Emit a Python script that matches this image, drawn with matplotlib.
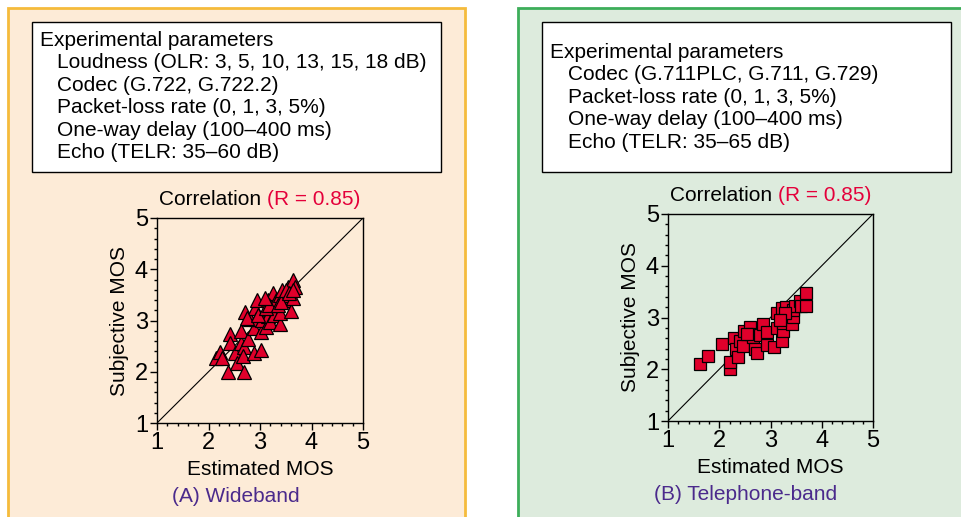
import numpy as np
import matplotlib.pyplot as plt
from matplotlib.patches import Rectangle
from matplotlib.ticker import MultipleLocator

plt.rcParams['font.family'] = ['Liberation Sans', 'DejaVu Sans']

# wideband (triangles)
wb_est = [2.15, 2.23, 2.27, 2.38, 2.41, 2.41, 2.51, 2.55, 2.64, 2.64, 2.68, 2.68, 2.67,
          2.70, 2.77, 2.88, 2.88, 2.81, 2.90, 2.94, 2.93, 3.01, 3.01, 3.03, 3.11, 3.16,
          3.16, 3.20, 3.25, 3.25, 3.28, 3.32, 3.38, 3.38, 3.38, 3.43, 3.46, 3.51, 3.54,
          3.59, 3.61, 3.64, 3.65, 3.67, 2.74, 2.96, 3.12, 3.18, 3.35, 3.41, 3.09, 3.51,
          3.57, 3.64]
wb_subj = [2.26, 2.39, 2.26, 2.00, 2.74, 2.56, 2.37, 2.17, 2.56, 2.80, 2.49, 1.99, 2.31,
           3.17, 2.63, 2.36, 2.85, 3.02, 3.24, 3.40, 3.02, 2.43, 2.78, 3.01, 2.88, 3.09,
           3.40, 2.98, 3.27, 3.53, 3.11, 3.40, 2.94, 3.14, 3.50, 3.59, 3.40, 3.46, 3.66,
           3.50, 3.19, 3.43, 3.79, 3.66, 3.04, 3.11, 3.24, 3.30, 3.30, 3.37, 3.43, 3.59,
           3.53, 3.59]

# telephone band (squares)
tb_est = [1.62, 1.79, 2.05, 2.20, 2.21, 2.28, 2.33, 2.36, 2.41, 2.46, 2.48, 2.60, 2.61,
          2.65, 2.70, 2.74, 2.80, 2.85, 2.93, 2.94, 3.06, 3.12, 3.12, 3.22, 3.24, 3.25,
          3.22, 3.31, 3.41, 3.44, 3.43, 3.47, 3.57, 3.60, 3.69, 3.70, 2.54, 3.28, 3.19]
tb_subj = [2.10, 2.25, 2.49, 2.00, 2.14, 2.60, 2.40, 2.24, 2.54, 2.45, 2.74, 2.82, 2.68,
           2.63, 2.40, 2.31, 2.66, 2.87, 2.72, 2.47, 2.43, 2.79, 3.08, 2.55, 2.73, 2.90,
           3.18, 3.21, 2.87, 3.01, 3.14, 3.22, 3.31, 3.22, 3.47, 3.22, 2.69, 3.08, 2.95]

wb_params = ['Experimental parameters',
             'Loudness (OLR: 3, 5, 10, 13, 15, 18 dB)',
             'Codec (G.722, G.722.2)',
             'Packet-loss rate (0, 1, 3, 5%)',
             'One-way delay (100\u2013400 ms)',
             'Echo (TELR: 35\u201360 dB)']
tb_params = ['Experimental parameters',
             'Codec (G.711PLC, G.711, G.729)',
             'Packet-loss rate (0, 1, 3, 5%)',
             'One-way delay (100\u2013400 ms)',
             'Echo (TELR: 35\u201365 dB)']

W, H = 961, 517
fig = plt.figure(figsize=(W / 100, H / 100), dpi=100)

def fx(x):
    return x / W

def fy(y):
    return 1 - y / H

def rect(x0, y0, x1, y1, **kw):
    fig.patches.append(Rectangle((fx(x0), fy(y1)), fx(x1) - fx(x0), fy(y0) - fy(y1),
                                 transform=fig.transFigure, figure=fig, zorder=-5, **kw))

# panels
rect(8, 8, 465, 530, facecolor='#fdebd7', edgecolor='#f5bb3c', lw=2)
rect(518, 8, 975, 530, facecolor='#ddebdd', edgecolor='#3dae5a', lw=2)

# parameter boxes
rect(32, 22, 441, 172, facecolor='white', edgecolor='black', lw=1)
rect(542, 22, 951, 172, facecolor='white', edgecolor='black', lw=1)

fs = 15
for i, line in enumerate(wb_params):
    x = 40 if i == 0 else 57
    fig.text(fx(x), fy(40 + i * 22.6), line, fontsize=fs, va='center')
for i, line in enumerate(tb_params):
    x = 550 if i == 0 else 568
    fig.text(fx(x), fy(52 + i * 22.6), line, fontsize=fs, va='center')

def panel(x0, x1, y0, y1, est, subj, marker, ms, label, lab_x):
    ax = fig.add_axes([fx(x0), fy(y1), fx(x1) - fx(x0), fy(y0) - fy(y1)])
    ax.set_facecolor('none')
    ax.plot([1, 5], [1, 5], color='black', lw=0.8, zorder=1)
    ax.plot(est, subj, linestyle='none', marker=marker, ms=ms, mfc='#e0002b',
            mec='black', mew=0.9, zorder=2)
    ax.set_xlim(1, 5)
    ax.set_ylim(1, 5)
    ax.xaxis.set_major_locator(MultipleLocator(1))
    ax.yaxis.set_major_locator(MultipleLocator(1))
    ax.xaxis.set_minor_locator(MultipleLocator(0.2))
    ax.yaxis.set_minor_locator(MultipleLocator(0.2))
    ax.tick_params(which='major', length=5, width=1, labelsize=17, pad=1.5)
    ax.tick_params(which='minor', length=2.5, width=1)
    for s in ax.spines.values():
        s.set_linewidth(1)
    ax.set_xlabel('Estimated MOS', fontsize=fs, labelpad=4)
    ax.set_ylabel('Subjective MOS', fontsize=fs, labelpad=4)
    t1 = ax.text(0.535, 1.045, 'Correlation ', transform=ax.transAxes, fontsize=fs,
                 ha='right', va='bottom')
    ax.annotate('(R = 0.85)', xycoords=t1, xy=(1, 0), va='bottom', ha='left',
                fontsize=fs, color='#e4003a')
    fig.text(fx(lab_x), fy(y1 + 74), label, fontsize=fs, color='#4b2a8c',
             ha='center', va='center')
    return ax

panel(157, 363, 218, 423, wb_est, wb_subj, '^', 10, '(A) Wideband', 236)
panel(668, 873, 214, 421, tb_est, tb_subj, 's', 9, '(B) Telephone-band', 746)

fig.savefig('out.png', dpi=100)
